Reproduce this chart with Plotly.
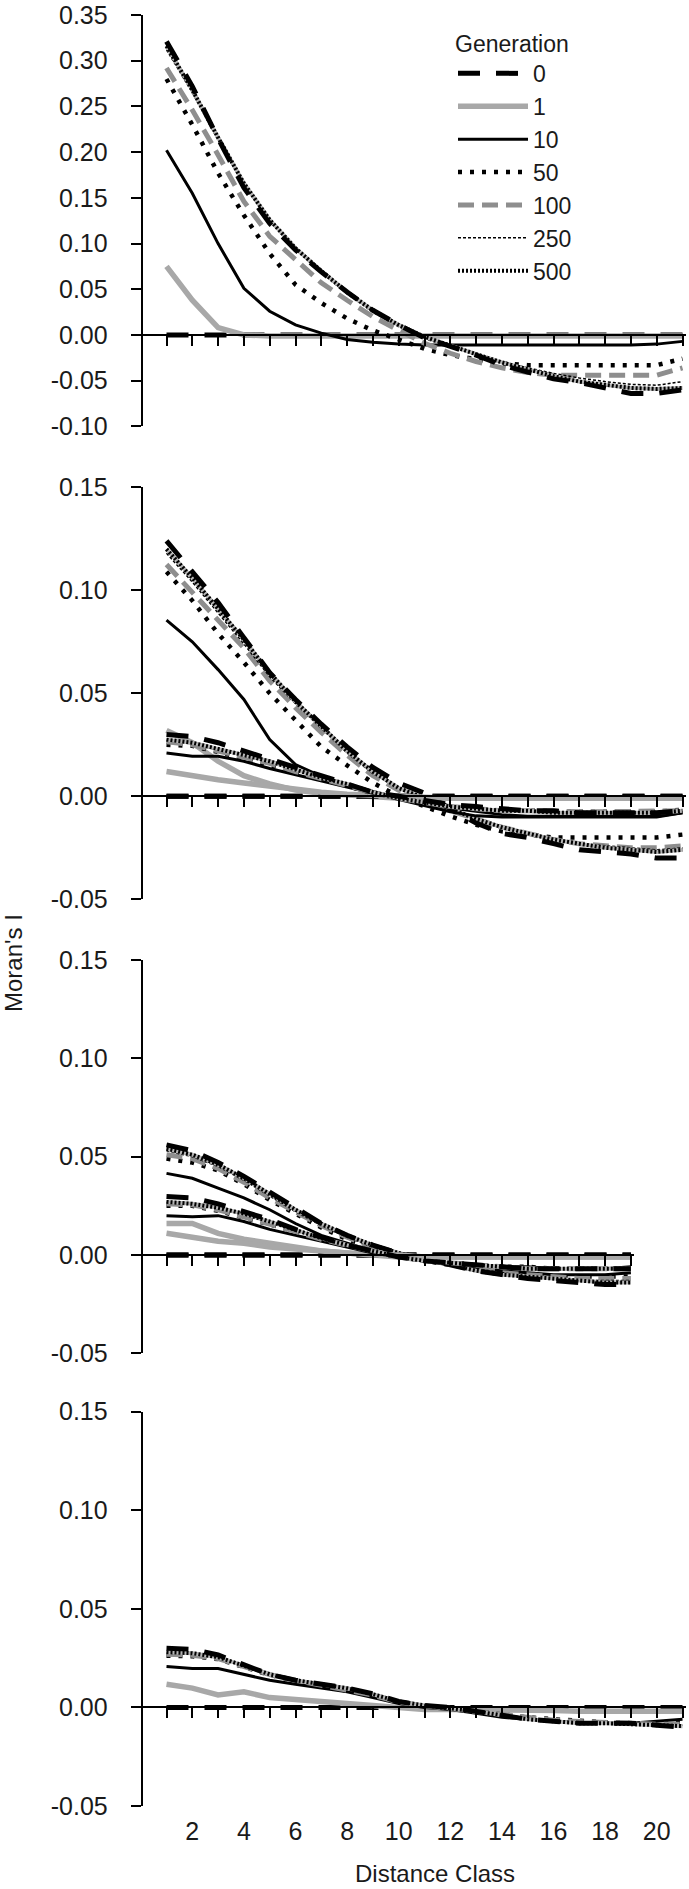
import plotly.graph_objects as go

# -----------------------------
# Data
# -----------------------------
GENERATIONS = ["0", "1", "10", "50", "100", "250", "500"]
CLASSES_21 = [1, 2, 3, 4, 5, 6, 7, 8, 9, 10, 11, 12, 13, 14, 15, 16, 17, 18, 19, 20, 21]
CLASSES_19 = [1, 2, 3, 4, 5, 6, 7, 8, 9, 10, 11, 12, 13, 14, 15, 16, 17, 18, 19]
X_LABELS = [2, 4, 6, 8, 10, 12, 14, 16, 18, 20]

TICKS_P1 = [-0.10, -0.05, 0.00, 0.05, 0.10, 0.15, 0.20, 0.25, 0.30, 0.35]
TICKS_P2 = [-0.05, 0.00, 0.05, 0.10, 0.15]

# panel 1
P1_G0 = [0, 0, 0, 0, 0, 0, 0, 0, 0, 0, 0, 0, 0, 0, 0, 0, 0, 0, 0, 0, 0]
P1_G1 = [0.075, 0.038, 0.008, 0.000, -0.001, -0.001, -0.001, -0.001, -0.001, -0.001, -0.001,
         -0.001, -0.001, -0.001, -0.001, -0.001, -0.001, -0.001, -0.001, -0.001, -0.001]
P1_G10 = [0.202, 0.155, 0.100, 0.051, 0.026, 0.011, 0.002, -0.005, -0.008, -0.010, -0.011,
          -0.011, -0.011, -0.011, -0.011, -0.011, -0.011, -0.011, -0.011, -0.010, -0.007]
P1_G50 = [0.280, 0.230, 0.177, 0.131, 0.089, 0.055, 0.035, 0.018, 0.005, -0.005, -0.015,
          -0.022, -0.027, -0.031, -0.033, -0.033, -0.033, -0.033, -0.033, -0.033, -0.026]
P1_G100 = [0.292, 0.246, 0.197, 0.146, 0.108, 0.082, 0.057, 0.038, 0.020, 0.005, -0.009,
           -0.020, -0.029, -0.036, -0.041, -0.044, -0.044, -0.044, -0.044, -0.044, -0.036]
P1_G250 = [0.312, 0.265, 0.213, 0.164, 0.125, 0.094, 0.068, 0.045, 0.025, 0.009, -0.004,
           -0.013, -0.021, -0.029, -0.036, -0.042, -0.047, -0.051, -0.054, -0.055, -0.051]
P1_G500 = [0.316, 0.268, 0.216, 0.166, 0.126, 0.095, 0.070, 0.047, 0.027, 0.011, -0.002,
           -0.012, -0.021, -0.030, -0.038, -0.045, -0.051, -0.055, -0.058, -0.059, -0.058]
P1_TOP = [0.321, 0.272, 0.215, 0.161, 0.122, 0.093, 0.069, 0.047, 0.027, 0.011, -0.003,
          -0.012, -0.022, -0.033, -0.040, -0.048, -0.052, -0.058, -0.064, -0.064, -0.060]

# panel 2, upper set
P2A_G1 = [0.032, 0.026, 0.017, 0.010, 0.006, 0.003, 0.0015, 0.0005, 0.000, -0.001, -0.001,
          -0.001, -0.001, -0.001, -0.001, -0.001, -0.001, -0.001, -0.001, -0.001, -0.001]
P2A_G10 = [0.0855, 0.075, 0.0615, 0.047, 0.0275, 0.0154, 0.0097, 0.0057, 0.0024, -0.0008, -0.003,
           -0.0057, -0.0073, -0.0089, -0.0097, -0.0097, -0.0097, -0.0097, -0.0097, -0.0097, -0.008]
P2A_G50 = [0.109, 0.095, 0.079, 0.065, 0.050, 0.037, 0.024, 0.015, 0.0065, 0.000, -0.005,
           -0.0097, -0.0138, -0.017, -0.0186, -0.020, -0.020, -0.020, -0.020, -0.020, -0.0186]
P2A_G100 = [0.1125, 0.099, 0.086, 0.072, 0.056, 0.043, 0.031, 0.020, 0.010, 0.003, -0.002,
            -0.007, -0.011, -0.015, -0.018, -0.021, -0.023, -0.024, -0.025, -0.025, -0.024]
P2A_G250 = [0.118, 0.104, 0.089, 0.074, 0.058, 0.045, 0.033, 0.021, 0.011, 0.004, -0.001,
            -0.006, -0.011, -0.015, -0.018, -0.021, -0.023, -0.024, -0.025, -0.026, -0.025]
P2A_G500 = [0.120, 0.106, 0.091, 0.076, 0.060, 0.046, 0.034, 0.022, 0.012, 0.004, -0.001,
            -0.006, -0.011, -0.015, -0.018, -0.021, -0.023, -0.025, -0.026, -0.027, -0.026]
P2A_TOP = [0.124, 0.109, 0.094, 0.077, 0.060, 0.047, 0.035, 0.024, 0.014, 0.0065, 0.0015,
           -0.006, -0.013, -0.018, -0.020, -0.023, -0.026, -0.027, -0.028, -0.030, -0.030]

# panel 2, lower set
P2B_G1 = [0.012, 0.0097, 0.008, 0.0065, 0.005, 0.003, 0.002, 0.001, 0.0005, 0.000, -0.001,
          -0.001, -0.001, -0.001, -0.001, -0.001, -0.001, -0.001, -0.001, -0.001, -0.001]
P2B_G10 = [0.021, 0.0195, 0.0194, 0.017, 0.0135, 0.0105, 0.0075, 0.0045, 0.0015, -0.0015, -0.0045,
           -0.0075, -0.0095, -0.010, -0.010, -0.010, -0.010, -0.010, -0.010, -0.010, -0.008]
P2B_G50 = [0.025, 0.0245, 0.0215, 0.0185, 0.0155, 0.012, 0.0085, 0.005, 0.0015, -0.001, -0.003,
           -0.005, -0.006, -0.007, -0.007, -0.0075, -0.0075, -0.0075, -0.0075, -0.0075, -0.0065]
P2B_G100 = [0.0265, 0.025, 0.022, 0.019, 0.016, 0.012, 0.0085, 0.005, 0.0018, -0.001, -0.003,
            -0.005, -0.006, -0.007, -0.007, -0.0075, -0.0075, -0.0075, -0.0075, -0.0075, -0.007]
P2B_G250 = [0.027, 0.0255, 0.0225, 0.0195, 0.0165, 0.0125, 0.0088, 0.0055, 0.002, -0.001, -0.003,
            -0.005, -0.006, -0.007, -0.007, -0.008, -0.008, -0.008, -0.008, -0.008, -0.007]
P2B_G500 = [0.0275, 0.026, 0.023, 0.020, 0.017, 0.013, 0.009, 0.006, 0.002, -0.001, -0.003,
            -0.005, -0.006, -0.007, -0.007, -0.008, -0.008, -0.008, -0.008, -0.008, -0.007]
P2B_TOP = [0.030, 0.029, 0.026, 0.022, 0.018, 0.014, 0.010, 0.006, 0.002, 0.000, -0.002,
           -0.004, -0.005, -0.006, -0.007, -0.007, -0.008, -0.008, -0.008, -0.008, -0.007]

# panel 3, upper set (19 classes)
P3_G0 = [0, 0, 0, 0, 0, 0, 0, 0, 0, 0, 0, 0, 0, 0, 0, 0, 0, 0, 0]
P3A_G1 = [0.016, 0.016, 0.011, 0.008, 0.006, 0.004, 0.002, 0.001, 0.000, -0.001,
          -0.001, -0.001, -0.001, -0.001, -0.001, -0.001, -0.001, -0.001, -0.001]
P3A_G10 = [0.0415, 0.039, 0.034, 0.029, 0.023, 0.016, 0.010, 0.006, 0.002, -0.001,
           -0.003, -0.005, -0.007, -0.008, -0.009, -0.010, -0.010, -0.010, -0.009]
P3A_G50 = [0.049, 0.047, 0.043, 0.036, 0.028, 0.021, 0.014, 0.008, 0.004, 0.000,
           -0.003, -0.005, -0.007, -0.009, -0.010, -0.011, -0.011, -0.011, -0.011]
P3A_G100 = [0.051, 0.049, 0.044, 0.037, 0.029, 0.022, 0.015, 0.009, 0.004, 0.000,
            -0.002, -0.005, -0.007, -0.009, -0.010, -0.011, -0.012, -0.012, -0.012]
P3A_G250 = [0.053, 0.050, 0.045, 0.038, 0.030, 0.022, 0.015, 0.009, 0.004, 0.0005,
            -0.002, -0.005, -0.007, -0.009, -0.011, -0.012, -0.013, -0.013, -0.013]
P3A_G500 = [0.054, 0.051, 0.046, 0.039, 0.031, 0.023, 0.016, 0.010, 0.005, 0.001,
            -0.002, -0.005, -0.008, -0.010, -0.011, -0.012, -0.013, -0.014, -0.014]
P3A_TOP = [0.056, 0.053, 0.047, 0.040, 0.032, 0.024, 0.016, 0.010, 0.005, 0.001,
           -0.002, -0.005, -0.008, -0.010, -0.012, -0.013, -0.014, -0.015, -0.015]

# panel 3, lower set
P3B_G1 = [0.011, 0.009, 0.007, 0.006, 0.004, 0.003, 0.002, 0.001, 0.000, 0.000,
          -0.001, -0.001, -0.001, -0.001, -0.001, -0.001, -0.001, -0.001, -0.001]
P3B_G10 = [0.020, 0.0195, 0.020, 0.017, 0.013, 0.010, 0.007, 0.004, 0.001, -0.001,
           -0.003, -0.004, -0.005, -0.006, -0.006, -0.007, -0.007, -0.007, -0.006]
P3B_G50 = [0.025, 0.025, 0.0225, 0.019, 0.0155, 0.0115, 0.008, 0.0045, 0.0015, -0.001,
           -0.003, -0.004, -0.005, -0.006, -0.006, -0.007, -0.007, -0.007, -0.007]
P3B_G100 = [0.026, 0.0255, 0.023, 0.0195, 0.016, 0.012, 0.008, 0.0048, 0.0018, -0.001,
            -0.003, -0.004, -0.005, -0.006, -0.007, -0.007, -0.007, -0.007, -0.007]
P3B_G250 = [0.0265, 0.0258, 0.0235, 0.0205, 0.0165, 0.0123, 0.0083, 0.005, 0.002, -0.001,
            -0.003, -0.004, -0.005, -0.006, -0.007, -0.007, -0.007, -0.007, -0.007]
P3B_G500 = [0.027, 0.026, 0.024, 0.021, 0.017, 0.0125, 0.0085, 0.005, 0.002, -0.001,
            -0.003, -0.004, -0.005, -0.006, -0.007, -0.007, -0.007, -0.007, -0.007]
P3B_TOP = [0.0297, 0.029, 0.026, 0.022, 0.018, 0.013, 0.009, 0.005, 0.002, -0.001,
           -0.003, -0.004, -0.005, -0.006, -0.007, -0.007, -0.007, -0.007, -0.007]

# panel 4
P4_G1 = [0.0118, 0.0098, 0.0063, 0.0079, 0.005, 0.004, 0.0024, 0.0016, 0.0004, 0.000, -0.001,
         -0.001, -0.001, -0.001, -0.0015, -0.0015, -0.002, -0.002, -0.002, -0.002, -0.002]
P4_G10 = [0.0207, 0.0197, 0.0197, 0.0167, 0.0138, 0.0118, 0.0098, 0.0079, 0.005, 0.002, 0.000,
          -0.001, -0.003, -0.005, -0.006, -0.007, -0.0075, -0.008, -0.008, -0.007, -0.006]
P4_G50 = [0.0262, 0.026, 0.0245, 0.0205, 0.0165, 0.0135, 0.011, 0.009, 0.006, 0.0025, 0.0005,
          -0.0005, -0.002, -0.004, -0.005, -0.006, -0.007, -0.0075, -0.008, -0.008, -0.008]
P4_G100 = [0.027, 0.0265, 0.0248, 0.0208, 0.0167, 0.0137, 0.0112, 0.0092, 0.0062, 0.0027, 0.0007,
           -0.0005, -0.002, -0.004, -0.0055, -0.0065, -0.0072, -0.0078, -0.008, -0.0085, -0.0085]
P4_G250 = [0.0275, 0.027, 0.025, 0.021, 0.017, 0.014, 0.0115, 0.0095, 0.0065, 0.003, 0.001,
           -0.0005, -0.002, -0.004, -0.006, -0.007, -0.0075, -0.008, -0.008, -0.009, -0.009]
P4_G500 = [0.028, 0.0275, 0.0255, 0.0213, 0.0168, 0.0138, 0.0117, 0.0097, 0.0067, 0.003, 0.001,
           -0.0003, -0.002, -0.004, -0.006, -0.007, -0.008, -0.008, -0.0085, -0.009, -0.0095]
P4_TOP = [0.030, 0.0295, 0.0266, 0.0217, 0.0167, 0.0138, 0.0118, 0.0098, 0.0069, 0.003, 0.001,
          0.000, -0.002, -0.004, -0.006, -0.007, -0.008, -0.008, -0.008, -0.009, -0.010]

# -----------------------------
# Layout helpers (page pixels of the 689 x 1889 window; body margin removed below)
# -----------------------------
W, H = 689, 1889
AXIS_X_PX = 141.7
CLASS1_PX, CLASS_STEP_PX = 166.5, 25.8
FONT = "Liberation Sans, Arial, Helvetica, sans-serif"
INK = "#1a1a1a"


def fx(px):
    return px / W


def fy(py):
    return 1 - py / H


def px_to_class(px):
    return 1 + (px - CLASS1_PX) / CLASS_STEP_PX


# top px, bottom px, ymin, ymax, right end px of x axis, ticks
PANELS = [
    (15.0, 426.4, -0.10, 0.35, 686.0, TICKS_P1),
    (487.3, 899.3, -0.05, 0.15, 686.0, TICKS_P2),
    (960.0, 1353.3, -0.05, 0.15, 634.0, TICKS_P2),
    (1411.7, 1806.0, -0.05, 0.15, 686.0, TICKS_P2),
]

STYLES = {
    "0": dict(color="black", width=5, dash="22px,16px"),
    "1": dict(color="#a8a8a8", width=5.5),
    "10": dict(color="black", width=3),
    "50": dict(color="black", width=4.5, dash="4px,8px"),
    "100": dict(color="#8e8e8e", width=5, dash="16px,8px"),
    "250": dict(color="black", width=1.5, dash="3px,2px"),
    "500": dict(color="black", width=4, dash="2px,2px"),
}

fig = go.Figure()

series = [
    (1, CLASSES_21, [P1_G0, P1_G1, P1_G10, P1_G50, P1_G100, P1_G250, P1_G500], P1_TOP),
    (2, CLASSES_21, [P1_G0, P2A_G1, P2A_G10, P2A_G50, P2A_G100, P2A_G250, P2A_G500], P2A_TOP),
    (2, CLASSES_21, [P1_G0, P2B_G1, P2B_G10, P2B_G50, P2B_G100, P2B_G250, P2B_G500], P2B_TOP),
    (3, CLASSES_19, [P3_G0, P3A_G1, P3A_G10, P3A_G50, P3A_G100, P3A_G250, P3A_G500], P3A_TOP),
    (3, CLASSES_19, [P3_G0, P3B_G1, P3B_G10, P3B_G50, P3B_G100, P3B_G250, P3B_G500], P3B_TOP),
    (4, CLASSES_21, [P1_G0, P4_G1, P4_G10, P4_G50, P4_G100, P4_G250, P4_G500], P4_TOP),
]

first = True
for panel, classes, curves, top in series:
    suffix = "" if panel == 1 else str(panel)
    for gen, vals in zip(GENERATIONS, curves):
        if gen == "500":
            # textured underlay for the "checkered" line
            fig.add_trace(go.Scatter(
                x=classes, y=vals, mode="lines", line=dict(color="#b5b5b5", width=4),
                xaxis="x" + suffix, yaxis="y" + suffix, legendgroup=gen,
                showlegend=False, hoverinfo="skip"))
        fig.add_trace(go.Scatter(
            x=classes, y=vals, mode="lines", name=gen, line=STYLES[gen],
            xaxis="x" + suffix, yaxis="y" + suffix, legendgroup=gen,
            showlegend=first))
    fig.add_trace(go.Scatter(
        x=classes, y=top, mode="lines", name="0", line=STYLES["0"],
        xaxis="x" + suffix, yaxis="y" + suffix, legendgroup="0", showlegend=False))
    first = False

# empty trace so the bottom label axis gets drawn
fig.add_trace(go.Scatter(x=[], y=[], xaxis="x5", yaxis="y4", showlegend=False, hoverinfo="skip"))

layout = dict(
    width=W, height=H,
    margin=dict(l=0, r=0, t=0, b=0, autoexpand=False),
    paper_bgcolor="white", plot_bgcolor="white",
    font=dict(family=FONT, size=22, color=INK),
    showlegend=True,
    legend=dict(
        x=fx(453), y=fy(22), xanchor="left", yanchor="top",
        bgcolor="rgba(0,0,0,0)", font=dict(size=23, color=INK),
        title=dict(text="Generation", font=dict(size=23, color=INK), side="top"),
        traceorder="normal", itemwidth=70, tracegroupgap=0,
    ),
)

for i, (top_px, bot_px, ymin, ymax, right_px, ticks) in enumerate(PANELS, start=1):
    suffix = "" if i == 1 else str(i)
    zero_px = top_px + ymax / (ymax - ymin) * (bot_px - top_px)
    layout["xaxis" + suffix] = dict(
        domain=[fx(AXIS_X_PX), fx(right_px)],
        range=[px_to_class(AXIS_X_PX), px_to_class(right_px)],
        anchor="free", position=fy(zero_px), automargin=False,
        showline=True, linecolor="black", linewidth=1.5,
        ticks="outside", ticklen=10, tickwidth=2, tickcolor="black",
        tickvals=CLASSES_19 if i == 3 else CLASSES_21,
        showticklabels=False, showgrid=False, zeroline=False,
    )
    layout["yaxis" + suffix] = dict(
        domain=[fy(bot_px), fy(top_px)],
        range=[ymin, ymax],
        anchor="free", position=fx(AXIS_X_PX), automargin=False,
        showline=True, linecolor="black", linewidth=2,
        ticks="outside", ticklen=10, tickwidth=2, tickcolor="black",
        tickvals=ticks, ticktext=[f"{v:.2f}" for v in ticks],
        ticklabelstandoff=18, ticklabeloverflow="allow",
        tickfont=dict(size=25, color=INK),
        showgrid=False, zeroline=False,
    )

# bottom labels for the distance classes
layout["xaxis5"] = dict(
    overlaying="x4", anchor="y4", side="bottom", automargin=False,
    range=[px_to_class(AXIS_X_PX), px_to_class(686.0)],
    tickvals=X_LABELS, ticks="", showline=False, showgrid=False, zeroline=False,
    ticklabelstandoff=8, ticklabeloverflow="allow", tickfont=dict(size=25, color=INK),
)

fig.update_layout(**layout)

fig.add_annotation(text="Distance Class", x=fx(435), y=fy(1873), xref="paper", yref="paper",
                   xanchor="center", yanchor="middle",
                   showarrow=False, font=dict(size=24, color=INK))
fig.add_annotation(text="Moran's I", x=fx(13), y=fy(963), xref="paper", yref="paper",
                   xanchor="center", yanchor="middle",
                   showarrow=False, textangle=-90, font=dict(size=24, color=INK))

# the page body has a default 8px margin; drop it so the figure fills the window
fig.write_html("out.html", config={"displayModeBar": False},
               post_script="document.body.style.margin = '0px';")
